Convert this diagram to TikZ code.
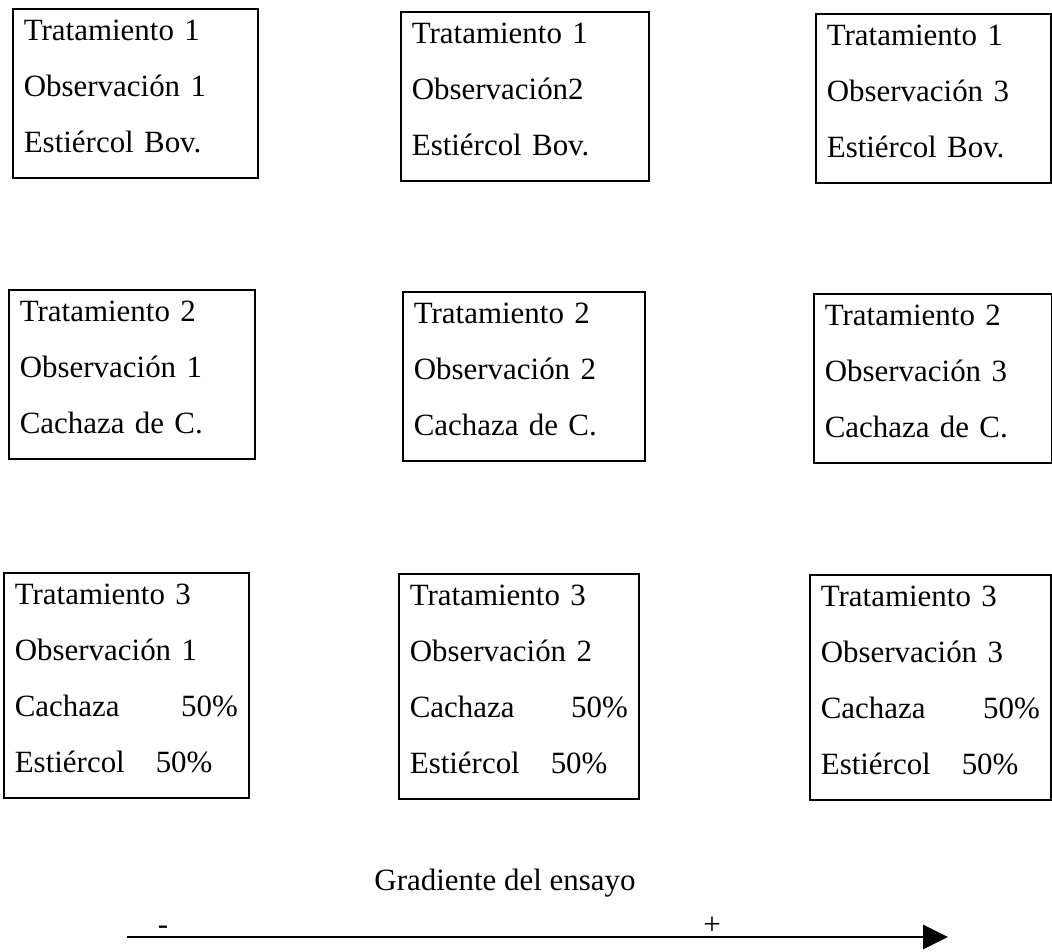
\documentclass[tikz,border=0pt]{standalone}
\usepackage{fontspec}
\setmainfont{Liberation Serif}
\usetikzlibrary{arrows.meta}

\begin{document}
\begin{tikzpicture}[x=0.025cm, y=-0.025cm]
\tikzstyle{caja}=[draw, line width=1.2pt, rectangle, anchor=north west, align=left,
  inner xsep=0.275cm, inner ysep=0pt, font=\fontsize{22}{39.8}\selectfont,
  execute at begin node={\rule{0pt}{22.8pt}},
  execute at end node={\rule[-17.8pt]{0pt}{17.8pt}}]
\tikzstyle{flecha}=[line width=2pt, -{Triangle[length=0.62cm, width=0.6cm]}]
\tikzstyle{letra}=[font=\fontsize{22}{26}\selectfont]

\useasboundingbox (0,0) rectangle (1052,952);

% tratamiento 1
\node[caja, text width=5.575cm] (t1o1) at (12,8) {Tratamiento 1\\Observación 1\\Estiércol Bov.};
\node[caja, text width=5.65cm] (t1o2) at (400,11) {Tratamiento 1\\Observación2\\Estiércol Bov.};
\node[caja, text width=5.325cm] (t1o3) at (815,13) {Tratamiento 1\\Observación 3\\Estiércol Bov.};

% tratamiento 2
\node[caja, text width=5.6cm] (t2o1) at (8,289) {Tratamiento 2\\Observación 1\\Cachaza de C.};
\node[caja, text width=5.5cm] (t2o2) at (402,291) {Tratamiento 2\\Observación 2\\Cachaza de C.};
\node[caja, text width=5.4cm] (t2o3) at (813,293) {Tratamiento 2\\Observación 3\\Cachaza de C.};

% tratamiento 3
\node[caja, text width=5.575cm] (t3o1) at (3,572) {Tratamiento 3\\Observación 1\\Cachaza \hfill 50\%\\Estiércol\quad 50\%};
\node[caja, text width=5.45cm] (t3o2) at (398,573) {Tratamiento 3\\Observación 2\\Cachaza \hfill 50\%\\Estiércol\quad 50\%};
\node[caja, text width=5.475cm] (t3o3) at (809,574) {Tratamiento 3\\Observación 3\\Cachaza \hfill 50\%\\Estiércol\quad 50\%};

% gradiente
\node[letra, anchor=base] (gradiente) at (505,890) {Gradiente del ensayo};
\node[letra, anchor=base] (menos) at (163,934) {-};
\node[letra, anchor=base] (mas) at (712,934) {+};

\coordinate (ini) at (127,937);
\coordinate (fin) at (948,937);
\draw[flecha] (ini) -- (fin);

\end{tikzpicture}
\end{document}
